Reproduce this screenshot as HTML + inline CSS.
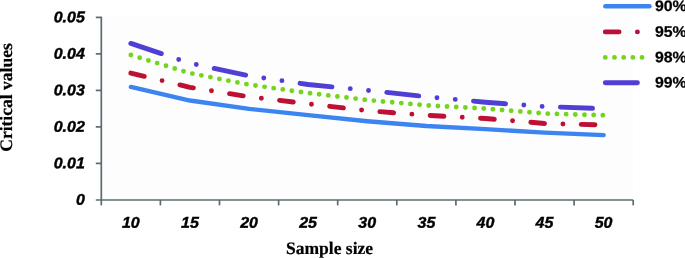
<!DOCTYPE html>
<html><head><meta charset="utf-8"><title>Critical values vs sample size</title>
<style>
html,body{margin:0;padding:0;background:#fff;}
svg{display:block;}
.tk{font-family:"Liberation Sans",sans-serif;font-weight:bold;font-style:italic;font-size:15.6px;fill:#000;stroke:#000;stroke-width:0.4px;}
.lg{font-family:"Liberation Sans",sans-serif;font-weight:bold;font-size:15.2px;fill:#000;stroke:#000;stroke-width:0.25px;}
.ti{font-family:"Liberation Serif",serif;font-weight:bold;font-size:17.55px;fill:#000;stroke:#000;stroke-width:0.2px;}
.ln{fill:none;stroke-linecap:round;stroke-linejoin:round;stroke-width:4.9;}
</style></head><body>
<svg width="685" height="258" viewBox="0 0 685 258">
<rect width="685" height="258" fill="#fff"/>
<rect x="102" y="17" width="531" height="182.5" fill="#fdfdfd"/>
<g stroke="#586c6f" stroke-width="1.7" fill="none">
<line x1="101.3" y1="16.7" x2="101.3" y2="205.4"/>
<line x1="95.8" y1="200" x2="633.2" y2="200"/>
<line x1="95.8" y1="17.4" x2="101.3" y2="17.4"/>
<line x1="95.8" y1="53.9" x2="101.3" y2="53.9"/>
<line x1="95.8" y1="90.4" x2="101.3" y2="90.4"/>
<line x1="95.8" y1="126.9" x2="101.3" y2="126.9"/>
<line x1="95.8" y1="163.4" x2="101.3" y2="163.4"/>
<line x1="160.4" y1="200" x2="160.4" y2="205.4"/>
<line x1="219.5" y1="200" x2="219.5" y2="205.4"/>
<line x1="278.6" y1="200" x2="278.6" y2="205.4"/>
<line x1="337.7" y1="200" x2="337.7" y2="205.4"/>
<line x1="396.8" y1="200" x2="396.8" y2="205.4"/>
<line x1="455.9" y1="200" x2="455.9" y2="205.4"/>
<line x1="515.0" y1="200" x2="515.0" y2="205.4"/>
<line x1="574.1" y1="200" x2="574.1" y2="205.4"/>
<line x1="633.2" y1="200" x2="633.2" y2="205.4"/>
</g>
<text class="tk" transform="translate(84.8,22.35) rotate(0.03) scale(1.025,1)" text-anchor="end">0.05</text>
<text class="tk" transform="translate(84.8,58.85) rotate(0.03) scale(1.025,1)" text-anchor="end">0.04</text>
<text class="tk" transform="translate(84.8,95.35) rotate(0.03) scale(1.025,1)" text-anchor="end">0.03</text>
<text class="tk" transform="translate(84.8,131.85) rotate(0.03) scale(1.025,1)" text-anchor="end">0.02</text>
<text class="tk" transform="translate(84.8,168.35) rotate(0.03) scale(1.025,1)" text-anchor="end">0.01</text>
<text class="tk" transform="translate(84.8,204.85) rotate(0.03) scale(1.025,1)" text-anchor="end">0</text>
<text class="tk" transform="translate(130.8,227.75) rotate(0.03) scale(1.025,1)" text-anchor="middle">10</text>
<text class="tk" transform="translate(189.9,227.75) rotate(0.03) scale(1.025,1)" text-anchor="middle">15</text>
<text class="tk" transform="translate(249.1,227.75) rotate(0.03) scale(1.025,1)" text-anchor="middle">20</text>
<text class="tk" transform="translate(308.1,227.75) rotate(0.03) scale(1.025,1)" text-anchor="middle">25</text>
<text class="tk" transform="translate(367.2,227.75) rotate(0.03) scale(1.025,1)" text-anchor="middle">30</text>
<text class="tk" transform="translate(426.4,227.75) rotate(0.03) scale(1.025,1)" text-anchor="middle">35</text>
<text class="tk" transform="translate(485.5,227.75) rotate(0.03) scale(1.025,1)" text-anchor="middle">40</text>
<text class="tk" transform="translate(544.5,227.75) rotate(0.03) scale(1.025,1)" text-anchor="middle">45</text>
<text class="tk" transform="translate(603.6,227.75) rotate(0.03) scale(1.025,1)" text-anchor="middle">50</text>
<text class="ti" transform="translate(329.5,254) rotate(0.03)" text-anchor="middle">Sample size</text>
<text class="ti" transform="translate(12,97.5) rotate(-89.97)" text-anchor="middle">Critical values</text>
<polyline class="ln" style="stroke-width:4.4" stroke="#3b84f2" points="130.85,86.95 189.95,100.55 249.05,108.85 308.15,115.15 367.25,121.25 426.35,126.05 485.45,129.15 544.55,132.65 603.65,135.15"/>
<polyline class="ln" stroke="#be0f34" stroke-dasharray="13.76 18.35 0 18.35" points="130.85,73.10 189.95,87.30 249.05,96.75 308.15,103.80 367.25,110.70 426.35,115.30 485.45,118.50 544.55,123.45 603.65,125.00"/>
<polyline class="ln" stroke="#74d61c" stroke-dasharray="0 9.18" points="130.85,55.05 189.95,73.15 249.05,84.65 308.15,93.00 367.25,100.00 426.35,105.35 485.45,108.55 544.55,113.55 603.65,115.25"/>
<polyline class="ln" stroke="#4f3fd4" stroke-dasharray="32.12 18.35 0 18.35 0 18.35" points="130.85,43.40 189.95,63.20 249.05,75.80 308.15,84.50 367.25,90.30 426.35,96.70 485.45,102.20 544.55,106.60 603.65,108.70"/>
<line class="ln" style="stroke-width:4.4" stroke="#3b84f2" x1="605.3" y1="6.3" x2="649.5" y2="6.3"/>
<line class="ln" stroke="#be0f34" stroke-dasharray="13.76 18.35 0 18.35" x1="605.3" y1="31.9" x2="649.5" y2="31.9"/>
<line class="ln" stroke="#74d61c" stroke-dasharray="0 9.18" x1="605.3" y1="57.4" x2="649.5" y2="57.4"/>
<line class="ln" stroke="#4f3fd4" stroke-dasharray="32.12 18.35 0 18.35 0 18.35" x1="605.3" y1="82.8" x2="649.5" y2="82.8"/>
<text class="lg" transform="translate(654.9,11.05) rotate(0.03) scale(1.045,1)">90%</text>
<text class="lg" transform="translate(654.9,36.65) rotate(0.03) scale(1.045,1)">95%</text>
<text class="lg" transform="translate(654.9,62.15) rotate(0.03) scale(1.045,1)">98%</text>
<text class="lg" transform="translate(654.9,87.55) rotate(0.03) scale(1.045,1)">99%</text>
</svg>
</body></html>
